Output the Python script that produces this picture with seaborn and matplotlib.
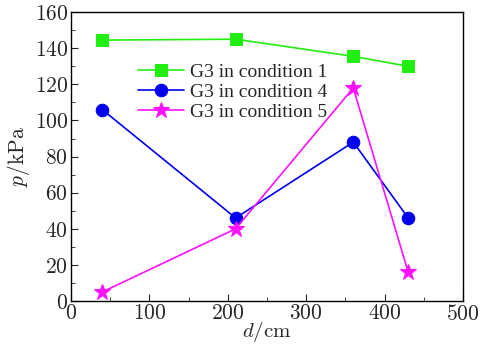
import matplotlib
matplotlib.use("Agg")
import matplotlib.pyplot as plt
import seaborn as sns
import pandas as pd
from matplotlib.ticker import MultipleLocator

d_cm = [40, 210, 360, 430]
cond1 = [144.5, 145, 135.5, 130]
cond4 = [106, 46, 88, 46]
cond5 = [5, 40, 118, 16]
labels = ["G3 in condition 1", "G3 in condition 4", "G3 in condition 5"]

sns.set_style("ticks")
plt.rcParams['font.family'] = ['cmr10', 'DejaVu Serif']
plt.rcParams['mathtext.fontset'] = 'cm'
plt.rcParams['axes.formatter.use_mathtext'] = True

fig = plt.figure(figsize=(4.89, 3.46), dpi=100)
ax = fig.add_axes([0.145, 0.13, 0.802, 0.835])

styles = [("#22ee11", "s", 8), ("#0000ee", "o", 9), ("#ff11ff", "*", 12)]
for vals, lab, (c, m, ms) in zip([cond1, cond4, cond5], labels, styles):
    df = pd.DataFrame({"d": d_cm, "p": vals})
    sns.lineplot(data=df, x="d", y="p", ax=ax, color=c, marker=m, markersize=ms,
                 markeredgecolor=c, linewidth=1.2, label=lab)

ax.set_xlim(0, 500)
ax.set_ylim(0, 160)
ax.xaxis.set_major_locator(MultipleLocator(100))
ax.xaxis.set_minor_locator(MultipleLocator(50))
ax.yaxis.set_major_locator(MultipleLocator(20))
ax.yaxis.set_minor_locator(MultipleLocator(10))
ax.tick_params(which="both", direction="in", top=False, right=False, labelsize=15.5, pad=2)
ax.tick_params(which="major", length=5)
ax.tick_params(which="minor", length=3)
for s in ax.spines.values():
    s.set_linewidth(1.0)
    s.set_color("black")
ax.set_xlabel("$d$/cm", fontsize=15, labelpad=-3)
ax.set_ylabel("$p$/kPa", fontsize=15.5, labelpad=2)
leg = ax.legend(loc="upper left", bbox_to_anchor=(0.15, 0.85), frameon=False,
                prop={"family": "Liberation Serif", "size": 14},
                handlelength=2.4, handletextpad=0.3, labelspacing=0.12, borderaxespad=0)

fig.savefig("out.png", dpi=100)
